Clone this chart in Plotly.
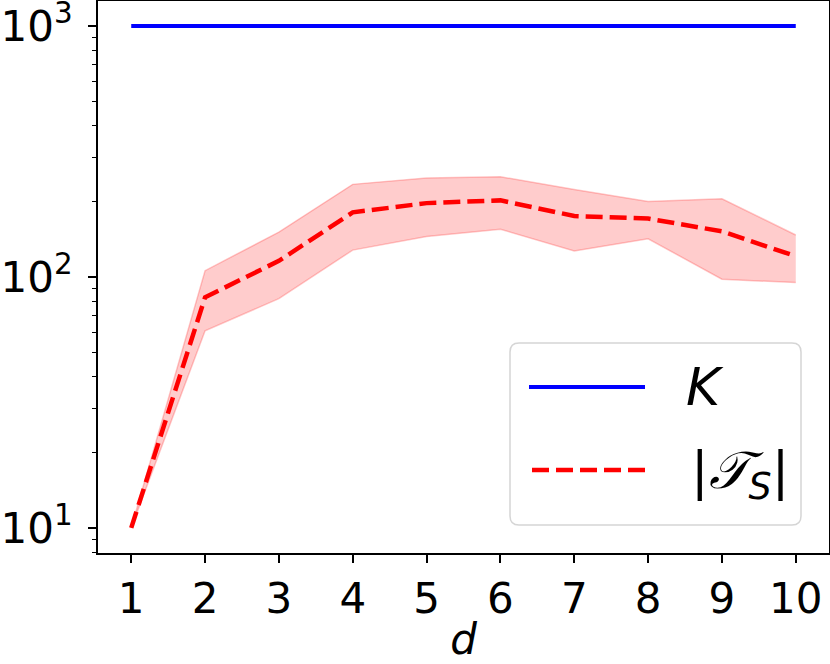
import plotly.graph_objects as go

# ---- data ----
d = [1, 2, 3, 4, 5, 6, 7, 8, 9, 10]
K_vals = [1000, 1000, 1000, 1000, 1000, 1000, 1000, 1000, 1000, 1000]
ts_mean = [10, 83, 116, 181, 197, 202, 175, 171, 152, 121]
ts_upper = [10, 106, 151, 234, 248, 251, 223, 200, 205, 147]
ts_lower = [10, 61, 82, 128, 145, 155, 127, 142, 98, 95]
x_ticks = [1, 2, 3, 4, 5, 6, 7, 8, 9, 10]
y_ticks = [10, 100, 1000]
y_ticktext = ["10<sup>1</sup>", "10<sup>2</sup>", "10<sup>3</sup>"]
y_minor = [8, 9, 20, 30, 40, 50, 60, 70, 80, 90, 200, 300, 400, 500, 600, 700, 800, 900]

W, H = 830, 664
L, R, T, B = 98, 1, 1, 111
pw, ph = W - L - R, H - T - B

def px(xp):
    return (xp - L) / pw

def py(yp):
    return (H - B - yp) / ph

fig = go.Figure()
fig.add_trace(go.Scatter(x=d, y=ts_lower, mode="lines",
                         line=dict(color="rgba(255,0,0,0.22)", width=1.5),
                         showlegend=False, hoverinfo="skip", cliponaxis=False))
fig.add_trace(go.Scatter(x=d, y=ts_upper, mode="lines", fill="tonexty",
                         fillcolor="rgba(255,0,0,0.2)",
                         line=dict(color="rgba(255,0,0,0.22)", width=1.5),
                         showlegend=False, hoverinfo="skip", cliponaxis=False))
fig.add_trace(go.Scatter(x=d, y=K_vals, mode="lines", name="K",
                         line=dict(color="#0000ff", width=4), showlegend=False))
fig.add_trace(go.Scatter(x=d, y=ts_mean, mode="lines", name="|T_S|",
                         line=dict(color="#ff0000", width=4.5, dash="17px,7px"),
                         showlegend=False))

# ---- manual legend (matplotlib style) ----
x0, x1, y0, y1 = px(510), px(801), py(525), py(343)
rx, ry = 9 / pw, 9 / ph
path = (f"M {x0+rx},{y0} L {x1-rx},{y0} Q {x1},{y0} {x1},{y0+ry} "
        f"L {x1},{y1-ry} Q {x1},{y1} {x1-rx},{y1} L {x0+rx},{y1} "
        f"Q {x0},{y1} {x0},{y1-ry} L {x0},{y0+ry} Q {x0},{y0} {x0+rx},{y0} Z")
shapes = [
    dict(type="path", xref="paper", yref="paper", path=path,
         fillcolor="rgba(255,255,255,0.8)", line=dict(color="#d5d5d5", width=1.5)),
    dict(type="line", xref="paper", yref="paper", x0=px(529), x1=px(645),
         y0=py(387), y1=py(387), line=dict(color="#0000ff", width=4)),
    dict(type="line", xref="paper", yref="paper", x0=px(532), x1=px(645),
         y0=py(470), y1=py(470), line=dict(color="#ff0000", width=4.5, dash="17px,7px")),
]
annotations = [
    dict(xref="paper", yref="paper", x=px(684), y=py(387), xanchor="left", yanchor="middle",
         text="<i>K</i>", showarrow=False,
         font=dict(family="DejaVu Sans", size=52, color="black")),
    dict(xref="paper", yref="paper", x=px(689), y=py(474), xanchor="left", yanchor="middle",
         text="|<i>𝒯</i><sub><i>S</i></sub>|", showarrow=False,
         font=dict(family="DejaVu Sans", size=52, color="black")),
]

fig.update_layout(
    width=W, height=H,
    margin=dict(l=L, r=R, t=T, b=B, autoexpand=False),
    paper_bgcolor="white", plot_bgcolor="white",
    font=dict(family="DejaVu Sans", size=42, color="black"),
    shapes=shapes, annotations=annotations,
    showlegend=False,
)
fig.update_xaxes(
    range=[0.55, 10.45], tickvals=x_ticks, ticktext=[str(v) for v in x_ticks],
    ticks="outside", ticklen=8, tickwidth=1.5, tickcolor="black",
    showline=True, linewidth=2, linecolor="black", mirror=True,
    showgrid=False, zeroline=False, automargin=False, ticklabeloverflow="allow",
    title=dict(text="<i>d</i>", font=dict(size=42), standoff=4),
)
fig.update_yaxes(
    type="log", range=[0.9, 3.1], tickvals=y_ticks, ticktext=y_ticktext,
    ticks="outside", ticklen=8, tickwidth=1.5, tickcolor="black",
    showline=True, linewidth=2, linecolor="black", mirror=True,
    showgrid=False, zeroline=False, automargin=False, ticklabeloverflow="allow",
    ticklabelstandoff=7,
    minor=dict(tickvals=y_minor, ticks="outside", ticklen=4.5, tickwidth=1,
               tickcolor="black", showgrid=False),
)

fig.write_html("out.html", config={"displayModeBar": False},
               post_script="document.body.style.margin='0';document.body.style.overflow='hidden';")
